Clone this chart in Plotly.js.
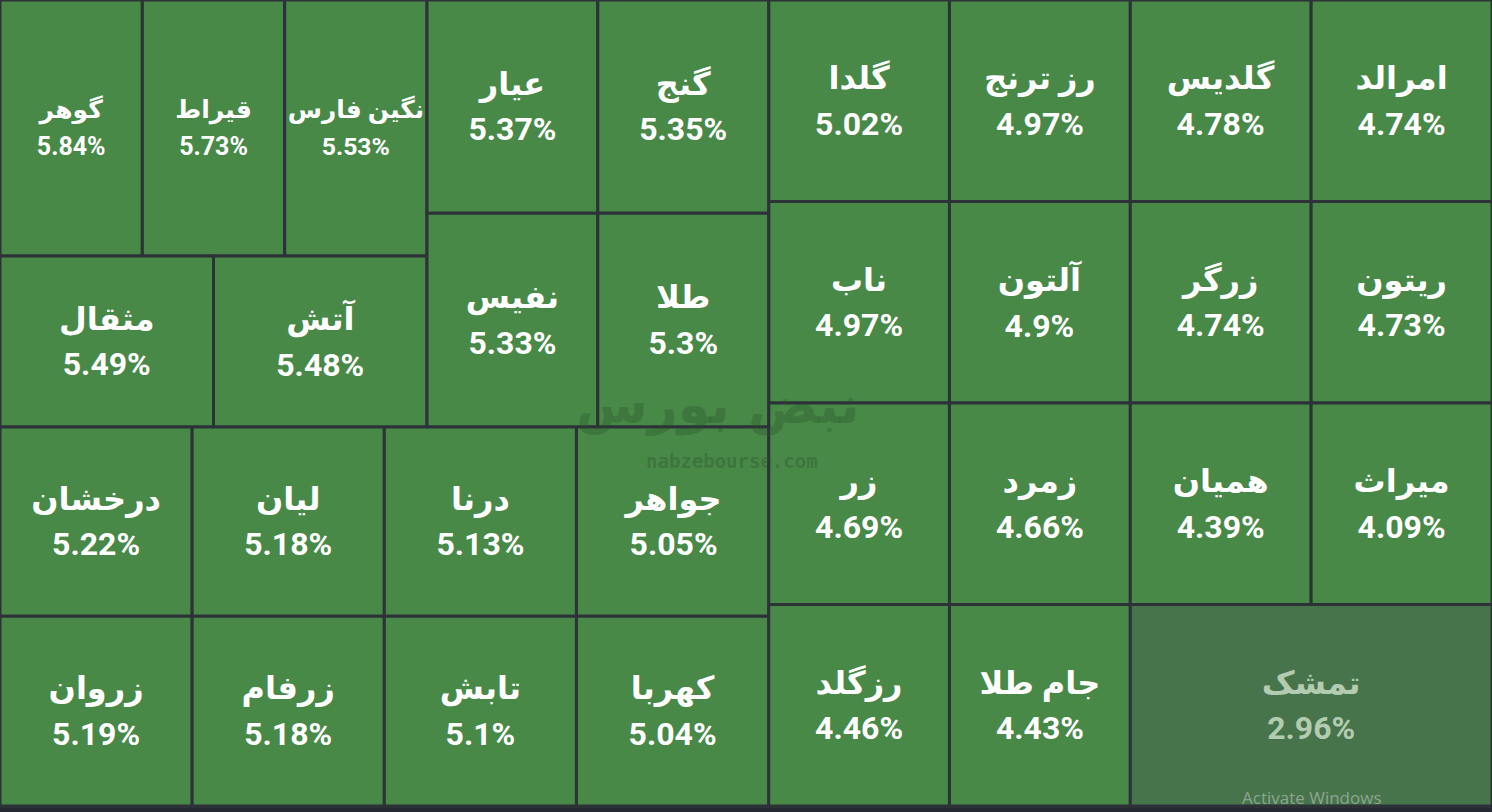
<!DOCTYPE html>
<html>
<head>
<meta charset="utf-8">
<script src="https://cdn.plot.ly/plotly-3.0.1.min.js"></script>
<style>html,body{margin:0;padding:0;background:#252a30;}#chart{width:1492px;height:812px;}</style>
</head>
<body>
<div id="chart"></div>
<script>
// ---- data ----
const names = ['گوهر','قیراط','نگین فارس','مثقال','آتش','عیار','گنج','نفیس','طلا',
  'درخشان','زروان','لیان','زرفام','درنا','تابش','جواهر','کهربا',
  'گلدا','رز ترنج','گلدیس','امرالد','ناب','آلتون','زرگر','ریتون',
  'زر','زمرد','همیان','میراث','رزگلد','جام طلا','تمشک'];
const pcts = [5.84,5.73,5.53,5.49,5.48,5.37,5.35,5.33,5.3,
  5.22,5.19,5.18,5.18,5.13,5.1,5.05,5.04,
  5.02,4.97,4.78,4.74,4.97,4.9,4.74,4.73,
  4.69,4.66,4.39,4.09,4.46,4.43,2.96];
const weights = [1,1,1,1,1,1,1,1,1,
  1,1,1,1,1,1,1,1,
  1,1,1,1,1,1,1,1,
  1,1,1,1,1,1,2];
const leafGroup = ['a1','a1','a1','a2','a2','b1','b1','b2','b2',
  'c1','c1','c2','c2','c3','c3','c4','c4',
  'r1','r1','r1','r1','r2','r2','r2','r2',
  'r3','r3','r3','r3','r4','r4','r4'];
const groupIds = ['root','L','R','LT','LB','LTL','LTR','a1','a2','b1','b2','c1','c2','c3','c4','r1','r2','r3','r4'];
const groupParents = ['','root','root','L','L','LT','LT','LTL','LTL','LTR','LTR','LB','LB','LB','LB','R','R','R','R'];

// ---- build trace ----
const GREEN = '#488948', MUTED = '#47744a';
const ids = [], labels = [], parents = [], values = [], texts = [], colors = [], tcolors = [], tsizes = [];
groupIds.forEach((g, i) => {
  ids.push(g); labels.push(g); parents.push(groupParents[i]); values.push(0);
  texts.push(''); colors.push(GREEN); tcolors.push('#ffffff'); tsizes.push(35);
});
names.forEach((n, i) => {
  const small = leafGroup[i] === 'a1';
  const inner = small ? 25 : 32;
  const low = pcts[i] < 4;
  ids.push('leaf' + i); labels.push(n); parents.push(leafGroup[i]); values.push(weights[i]);
  texts.push('<span style="font-size:' + inner + 'px"><b>' + n + '</b></span><br><span style="font-size:' + inner + 'px"><b>' + pcts[i] + '%</b></span>');
  colors.push(low ? MUTED : GREEN);
  tcolors.push(low ? '#b3ccb1' : '#ffffff');
  tsizes.push(small ? 29 : 35);
});

const trace = {
  type: 'treemap',
  ids: ids, labels: labels, parents: parents, values: values,
  branchvalues: 'remainder',
  sort: false,
  text: texts,
  textinfo: 'text',
  textposition: 'middle center',
  textfont: {family: 'Roboto, "DejaVu Sans", sans-serif', color: tcolors, size: tsizes},
  tiling: {packing: 'slice-dice', pad: 0},
  marker: {
    colors: colors,
    line: {color: '#2c3238', width: 3},
    pad: {t: 0, l: 0, r: 0, b: 0},
    depthfade: false
  },
  leaf: {opacity: 1},
  pathbar: {visible: false},
  hoverinfo: 'label+text',
  domain: {x: [0, 1], y: [6/812, 1]}
};

const layout = {
  width: 1492, height: 812,
  margin: {l: 0, r: 0, t: 0, b: 0},
  paper_bgcolor: '#252a30',
  showlegend: false,
  annotations: [
    {text: '<b>نبض بورس</b>', x: 718/1492, y: 1 - 405/812, xref: 'paper', yref: 'paper', showarrow: false,
     xanchor: 'center', yanchor: 'middle',
     font: {family: '"DejaVu Sans", sans-serif', size: 52, color: 'rgba(40,80,40,0.3)'}},
    {text: '<b>nabzebourse.com</b>', x: 732/1492, y: 1 - 461/812, xref: 'paper', yref: 'paper', showarrow: false,
     xanchor: 'center', yanchor: 'middle',
     font: {family: '"DejaVu Sans Mono", monospace', size: 19, color: 'rgba(40,80,40,0.35)'}},
    {text: 'Activate Windows', x: 1312/1492, y: 1 - 797/812, xref: 'paper', yref: 'paper', showarrow: false,
     xanchor: 'center', yanchor: 'middle',
     font: {family: '"Open Sans", sans-serif', size: 17, color: 'rgba(190,200,195,0.6)'}}
  ]
};

Plotly.newPlot('chart', [trace], layout, {displayModeBar: false, staticPlot: true});
</script>
</body>
</html>
